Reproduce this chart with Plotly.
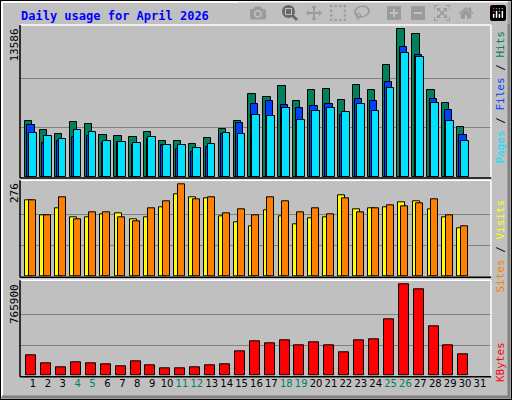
import plotly.graph_objects as go

days = list(range(1, 32))
hits = [5102,4272,3904,5010,4826,3811,3719,3627,4088,3350,3350,3074,3535,4365,5102,7592,7315,8330,6947,7961,8053,7039,8422,7961,10266,13586,13125,7961,6762,4549,None]
files = [4733,3166,3350,3627,3719,3166,3258,2981,3443,2981,2613,2336,2797,3904,4918,6670,6947,6578,6301,6486,6670,5656,7131,6947,8699,11926,11189,7131,6117,3811,None]
pages = [3996,3719,3443,4272,4088,3350,3258,3166,3627,2981,2981,2705,3074,3996,3904,5656,5563,6301,5195,6025,6301,5932,6670,6025,8146,11373,11005,6762,5102,3350,None]
visits = [228,183,204,177,177,186,189,171,177,207,246,237,234,180,162,150,198,180,156,174,177,243,201,204,207,222,225,201,177,144,None]
sites = [228,183,237,171,192,192,177,165,204,225,276,231,237,189,201,183,237,225,192,204,186,234,192,204,213,210,219,231,183,150,None]
kbytes = [170510,103425,69881,111810,103425,95040,78267,120196,86654,61495,61495,69881,86654,95040,204054,287912,271141,296298,254370,279526,254370,195668,296298,304684,472404,765900,723971,413699,254370,178896,None]
weekend = [4,5,11,12,18,19,25,26]
max_hits, max_sites, max_kb = 13586, 276, 765900

GREEN, BLUE, CYAN = "#00805C", "#0040FF", "#00E0FF"
YEL, ORG, RED = "#FFFF00", "#FF8000", "#FF0000"
BG = "#C0C0C0"
MONO = "DejaVu Sans Mono"

fig = go.Figure()
def bar(y, color, off, w, ax):
    fig.add_trace(go.Bar(x=days, y=y, marker=dict(color=color, line=dict(color="black", width=1)),
                         offset=off, width=w, xaxis="x", yaxis=ax, showlegend=False))
bar(hits, GREEN, -0.54, 0.49, "y")
bar(files, BLUE, -0.38, 0.49, "y")
bar(pages, CYAN, -0.27, 0.52, "y")
bar(visits, YEL, -0.52, 0.47, "y2")
bar(sites, ORG, -0.27, 0.47, "y2")
bar(kbytes, RED, -0.45, 0.67, "y3")

ticktext = [f'<span style="color:{GREEN if d in weekend else "black"}">{d}</span>' for d in days]
fig.update_layout(
    width=512, height=400, margin=dict(l=0, r=0, t=0, b=0),
    paper_bgcolor=BG, plot_bgcolor=BG, barmode="overlay", bargap=0,
    font=dict(family=MONO, size=11, color="black"),
    xaxis=dict(domain=[20/512, 491/512], range=[0.13, 31.74], tickvals=days, ticktext=ticktext, tickangle=0,
               showgrid=False, zeroline=False, ticks="", anchor="y3", automargin=False,
               tickfont=dict(size=10, family="DejaVu Sans")),
    yaxis=dict(domain=[1-177/400, 1-25/400], range=[0, max_hits*152/148], tickvals=[max_hits/3, 2*max_hits/3],
               showticklabels=False, gridcolor="#808080", zeroline=False),
    yaxis2=dict(domain=[1-276.3/400, 1-180.3/400], range=[0, 288], tickvals=[max_sites/3, 2*max_sites/3],
                showticklabels=False, gridcolor="#808080", zeroline=False),
    yaxis3=dict(domain=[1-375.7/400, 1-280.3/400], range=[0, max_kb*95.4/91.3], tickvals=[max_kb/3, 2*max_kb/3],
                showticklabels=False, gridcolor="#808080", zeroline=False),
)

shapes = []
def ln(x0, y0, x1, y1, c, w=1):
    shapes.append(dict(type="line", xref="paper", yref="paper", x0=x0/512, y0=1-y0/400, x1=x1/512, y1=1-y1/400,
                       line=dict(color=c, width=w)))
ln(0.5, 0, 0.5, 400, "black"); ln(0, 0.5, 512, 0.5, "black")
ln(511.5, 0, 511.5, 400, "black"); ln(0, 399.5, 512, 399.5, "black")
ln(2, 2, 2, 396, "white", 2); ln(2, 2, 508, 2, "white", 2)
ln(509, 2, 509, 398, "#808080", 3); ln(2, 397, 510, 397, "#808080", 3)
for top, bot in [(25, 177), (180.3, 276.3), (280.3, 375.7)]:
    ln(20, top, 491, top, "white", 1.5); ln(491, top, 491, bot, "white", 1.5)
    ln(20, top, 20, bot+1, "black", 1.5); ln(20, bot+1, 491, bot+1, "black", 1.5)
fig.update_layout(shapes=shapes)

ann = [
    dict(text="<b>Daily usage for April 2026</b>", x=19/512, y=1-16/400, xanchor="left", yanchor="middle",
         font=dict(family=MONO, size=12, color="#0000FF")),
    dict(text=str(max_hits), x=14/512, y=1-27/400, textangle=-90, xanchor="center", yanchor="top",
         font=dict(family=MONO, size=11)),
    dict(text=str(max_sites), x=14/512, y=1-181/400, textangle=-90, xanchor="center", yanchor="top",
         font=dict(family=MONO, size=11)),
    dict(text=str(max_kb), x=14/512, y=1-282/400, textangle=-90, xanchor="center", yanchor="top",
         font=dict(family=MONO, size=11)),
    dict(text=f'<span style="color:{CYAN}">Pages</span> / <span style="color:{BLUE}">Files</span> / <span style="color:{GREEN}">Hits</span>',
         x=500/512, y=1-29/400, textangle=-90, xanchor="center", yanchor="top", font=dict(family=MONO, size=11)),
    dict(text=f'<span style="color:{ORG}">Sites</span> / <span style="color:{YEL}">Visits</span>',
         x=500/512, y=1-198/400, textangle=-90, xanchor="center", yanchor="top", font=dict(family=MONO, size=11)),
    dict(text=f'<span style="color:{RED}">KBytes</span>',
         x=500/512, y=1-340/400, textangle=-90, xanchor="center", yanchor="top", font=dict(family=MONO, size=11)),
]
for a in ann:
    a.update(xref="paper", yref="paper", showarrow=False)
fig.update_layout(annotations=ann)
fig.write_html("out.html", post_script="document.body.style.margin='0';document.body.style.overflow='hidden';")
